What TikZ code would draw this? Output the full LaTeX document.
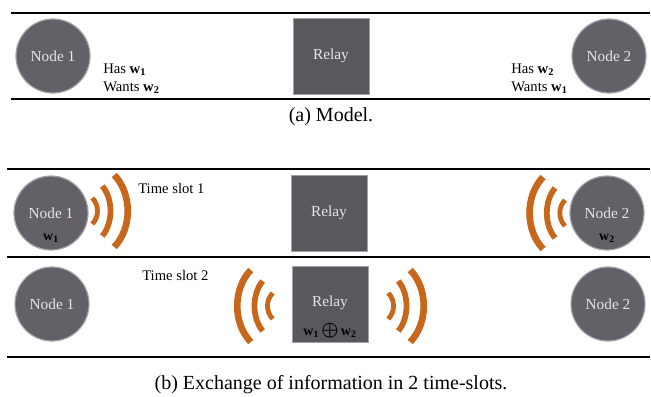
\documentclass[tikz,border=0pt]{standalone}
\usepackage{fontspec}
\setmainfont{Liberation Serif}
\usetikzlibrary{positioning}

\definecolor{nodegray}{HTML}{636068}
\definecolor{rimgray}{HTML}{A3A1A7}
\definecolor{relaygray}{HTML}{5A575D}
\definecolor{waveorange}{HTML}{C8661C}

\newcommand{\wvec}[1]{\textbf{w}\textsubscript{\textbf{#1}}}

\tikzset{
  terminal/.style={circle, fill=nodegray, draw=rimgray, line width=0.9pt,
    minimum size=55.5pt, inner sep=0pt, text=white!90!black,
    font=\fontsize{11.5}{13}\selectfont},
  relay/.style={rectangle, fill=relaygray, draw=rimgray, line width=0.4pt,
    minimum size=57pt, inner sep=0pt, text=white!90!black,
    font=\fontsize{11.5}{13}\selectfont},
  rule/.style={line width=1.4pt},
  note/.style={anchor=west, inner sep=0pt, align=left,
    font=\fontsize{11}{13.5}\selectfont},
  sym/.style={inner sep=0pt, font=\fontsize{10.5}{12}\selectfont},
  caption/.style={inner sep=0pt, font=\fontsize{15}{18}\selectfont},
  waves/.pic={
    \draw[waveorange, line width=3.6pt] (3,-13) .. controls (10,-6) and (10,6) .. (3,13);
    \draw[waveorange, line width=4.3pt] (13,-25) .. controls (24,-12) and (24,12) .. (13,25);
    \draw[waveorange, line width=5pt] (25,-36) .. controls (43,-17) and (43,17) .. (25,36);
  }
}

\begin{document}
\begin{tikzpicture}[x=0.75pt, y=-0.75pt, node distance=208.5pt, on grid]
    \useasboundingbox (0,0) rectangle (651,397);

    % (a) model
    \draw[rule] (11,13) -- (650,13);
    \draw[rule] (11,99) -- (650,99);
    \node[terminal] (n1a) at (53,56) {Node 1};
    \node[relay] (ra) [right=of n1a] {Relay};
    \node[terminal] (n2a) [right=of ra] {Node 2};
    \node[note] (know1) at (103,79) {Has \wvec{1}\\Wants \wvec{2}};
    \node[note] (know2) at (511,79) {Has \wvec{2}\\Wants \wvec{1}};
    \node[caption] (capa) at (331,117) {(a) Model.};

    % (b) time slot 1
    \draw[rule] (7,169) -- (650,169);
    \draw[rule] (7,257) -- (650,257);
    \node[terminal] (n1s1) at (51,213) {Node 1};
    \node[relay] (rs1) [right=of n1s1] {Relay};
    \node[terminal] (n2s1) [right=of rs1] {Node 2};
    \node[sym] at ([yshift=9pt]n1s1.south) {\wvec{1}};
    \node[sym] at ([yshift=9pt]n2s1.south) {\wvec{2}};
    \node[note] (slot1) at (138,188) {Time slot 1};
    \pic at ([xshift=0.5pt,yshift=1.5pt]n1s1.east) {waves};
    \pic[xscale=-1] at ([xshift=-1pt]n2s1.west) {waves};

    % (b) time slot 2
    \draw[rule] (7,357) -- (650,357);
    \node[terminal] (n1s2) at (52,304) {Node 1};
    \node[relay] (rs2) [right=of n1s2] {};
    \node[terminal] (n2s2) [right=of rs2] {Node 2};
    \node[sym, text=white!90!black, font=\fontsize{11.5}{13}\selectfont] at ([yshift=1pt]rs2.center) {Relay};
    \node[sym] at ([yshift=8.5pt]rs2.south) {\wvec{1}\,{\fontsize{14}{14}\selectfont\boldmath$\oplus$}\,\wvec{2}};
    \node[note] (slot2) at (142,275) {Time slot 2};
    \pic[xscale=-1] at ([xshift=-12pt,yshift=-1.5pt]rs2.west) {waves};
    \pic at ([xshift=12.75pt,yshift=-1.5pt]rs2.east) {waves};

    \node[caption] (capb) at (331,385) {(b) Exchange of information in 2 time-slots.};
\end{tikzpicture}
\end{document}
